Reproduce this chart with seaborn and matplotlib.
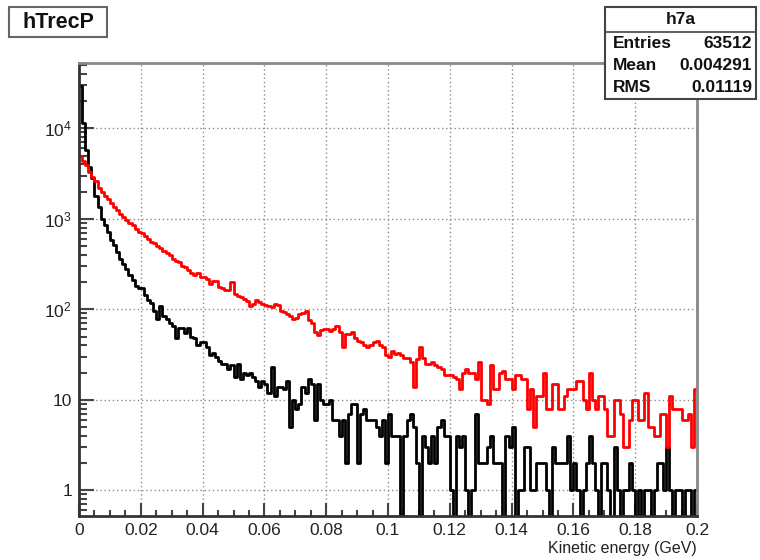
import numpy as np
import pandas as pd
import matplotlib
matplotlib.use("Agg")
import matplotlib.pyplot as plt
from matplotlib.patches import Rectangle
from matplotlib.lines import Line2D
from matplotlib import ticker
import seaborn as sns

# ---------------- data ----------------
bin_lo, bin_hi, n_bins = 0.0, 0.2, 200

black_counts = [
    29000, 11400, 5700, 3700, 2800, 1800, 1350, 1000, 850, 710,
    580, 510, 430, 360, 320, 280, 240, 210, 180, 170,
    170, 145, 126, 117, 95, 78, 110, 85, 78, 70,
    65, 48, 62, 62, 55, 62, 50, 48, 40, 44,
    43, 38, 31, 33, 30, 27, 25, 25, 22, 24,
    18, 25, 17, 20, 19, 20, 18, 16, 14, 16,
    15, 12, 23, 11, 14, 14, 13, 16, 5, 10,
    8, 9, 14, 12, 17, 15, 6, 15, 10, 9,
    9, 10, 6, 6, 4, 6, 2, 7, 9, 9,
    2, 7, 8, 6, 6, 6, 5, 4, 6, 2,
    7, 4, 4, 4, 0, 4, 6, 7, 5, 2,
    0, 4, 3, 2, 4, 2, 5, 6, 4, 4,
    1, 0, 4, 3, 4, 1, 0, 1, 7, 2,
    2, 2, 3, 4, 2, 2, 2, 0, 4, 3,
    5, 0, 1, 1, 3, 3, 1, 1, 2, 2,
    2, 1, 0, 3, 2, 2, 2, 2, 4, 1,
    2, 1, 0, 1, 2, 4, 2, 1, 0, 2,
    2, 1, 0, 3, 1, 0, 1, 1, 2, 1,
    0, 1, 0, 1, 1, 0, 1, 2, 2, 1,
    3, 1, 0, 1, 1, 0, 1, 1, 0, 1,
]

red_counts = [
    5000, 4400, 3900, 3300, 2900, 2600, 2200, 2000, 1800, 1650,
    1480, 1350, 1250, 1120, 1050, 960, 900, 850, 780, 720,
    700, 640, 600, 560, 540, 500, 470, 440, 420, 400,
    360, 340, 330, 300, 290, 270, 250, 240, 255, 230,
    228, 215, 191, 208, 208, 176, 170, 162, 162, 200,
    148, 140, 137, 130, 125, 110, 115, 126, 120, 115,
    112, 110, 105, 115, 112, 95, 93, 89, 85, 79,
    80, 89, 92, 97, 76, 70, 56, 52, 59, 60,
    61, 58, 60, 66, 56, 38, 54, 54, 56, 48,
    45, 44, 40, 38, 40, 44, 45, 40, 38, 31,
    30, 35, 32, 33, 31, 29, 29, 26, 14, 28,
    38, 29, 25, 25, 26, 24, 23, 22, 19, 19,
    19, 18, 17, 13, 20, 22, 20, 20, 17, 26,
    10, 10, 9, 24, 13, 13, 20, 21, 17, 17,
    13, 19, 19, 17, 17, 8, 13, 5, 11, 11,
    20, 8, 8, 15, 15, 8, 8, 11, 13, 13,
    13, 16, 16, 10, 8, 20, 10, 8, 11, 11,
    8, 4, 4, 10, 10, 7, 3, 3, 6, 10,
    10, 6, 6, 12, 5, 5, 4, 4, 7, 7,
    3, 11, 8, 8, 8, 6, 6, 7, 3, 13,
]

x_ticks = [0, 0.02, 0.04, 0.06, 0.08, 0.1, 0.12, 0.14, 0.16, 0.18, 0.2]
x_ticklabels = ["0", "0.02", "0.04", "0.06", "0.08", "0.1", "0.12", "0.14", "0.16", "0.18", "0.2"]
y_ticks = [1, 10, 100, 1000, 10000]
y_ticklabels = ["1", "10", r"$10^{2}$", r"$10^{3}$", r"$10^{4}$"]

hist_title = "hTrecP"
stats_name = "h7a"
stats_rows = [("Entries", "63512"), ("Mean", "0.004291"), ("RMS", "0.01119")]
x_label = "Kinetic energy (GeV)"

# ---------------- figure ----------------
sns.set_style("white")
plt.rcParams["font.family"] = ["Liberation Sans", "DejaVu Sans"]
plt.rcParams["mathtext.fontset"] = "custom"
plt.rcParams["mathtext.rm"] = "Liberation Sans"
plt.rcParams["mathtext.it"] = "Liberation Sans"

W, H = 760, 560
fig = plt.figure(figsize=(W / 100, H / 100), dpi=100)
fig.patch.set_facecolor("white")

def fx(px):
    return px / W

def fy(py):
    return 1 - py / H

ax_l, ax_r, ax_t, ax_b = 79, 697, 63, 516
ax = fig.add_axes([fx(ax_l), fy(ax_b), fx(ax_r) - fx(ax_l), fy(ax_t) - fy(ax_b)])

width = (bin_hi - bin_lo) / n_bins
centers = bin_lo + width * (np.arange(n_bins) + 0.5)
df = pd.DataFrame({
    "energy": np.concatenate([centers, centers]),
    "count": np.concatenate([black_counts, red_counts]).astype(float),
    "series": ["black"] * n_bins + ["red"] * n_bins,
})

for name, col in [("black", "black"), ("red", "#ff0000")]:
    sub = df[df["series"] == name]
    sns.histplot(data=sub, x="energy", weights="count", bins=n_bins,
                 binrange=(bin_lo, bin_hi), element="step", fill=False,
                 color=col, linewidth=2.0, ax=ax)

ax.set_yscale("log")
ax.set_xlim(bin_lo, bin_hi)
ax.set_ylim(0.52, 52700)

ax.xaxis.set_major_locator(ticker.FixedLocator(x_ticks))
ax.set_xticklabels(x_ticklabels)
ax.xaxis.set_minor_locator(ticker.MultipleLocator(0.005))
ax.yaxis.set_major_locator(ticker.FixedLocator(y_ticks))
ax.set_yticklabels(y_ticklabels)
ax.yaxis.set_minor_locator(ticker.LogLocator(base=10, subs=np.arange(2, 10)))
ax.yaxis.set_minor_formatter(ticker.NullFormatter())

ax.tick_params(axis="both", which="both", direction="in", colors="#444444",
               labelcolor="#222222", labelsize=12.5, width=1.5,
               bottom=True, left=True, top=False, right=False)
ax.tick_params(axis="x", which="major", length=9.5, pad=5)
ax.tick_params(axis="x", which="minor", length=4.5)
ax.tick_params(axis="y", which="major", length=11, pad=5)
ax.tick_params(axis="y", which="minor", length=5.5)

ax.grid(True, which="major", color="#8a8a8a", linestyle=(0, (1, 2)), linewidth=1)
ax.set_xlabel("")
ax.set_ylabel("")

for s in ["left", "bottom"]:
    ax.spines[s].set_color("#333333")
    ax.spines[s].set_linewidth(2)
for s in ["top", "right"]:
    ax.spines[s].set_color("#888888")
    ax.spines[s].set_linewidth(2)

fig.text(fx(697), fy(548), x_label, ha="right", va="center", fontsize=11.5, color="#222222")

# title box
fig.add_artist(Rectangle((fx(9), fy(37)), fx(107) - fx(9), fy(7) - fy(37),
                         transform=fig.transFigure, facecolor="white",
                         edgecolor="#666666", linewidth=1.5))
fig.text(fx(58), fy(22), hist_title, ha="center", va="center", fontsize=15.5,
         fontweight="bold", color="#111111")

# stats box
bx0, bx1, by0, by1 = 605, 756, 7, 99
fig.add_artist(Rectangle((fx(bx0), fy(by1)), fx(bx1) - fx(bx0), fy(by0) - fy(by1),
                         transform=fig.transFigure, facecolor="white",
                         edgecolor="#444444", linewidth=1.5, zorder=5))
fig.add_artist(Line2D([fx(bx0), fx(bx1)], [fy(32), fy(32)], transform=fig.transFigure,
                      color="#444444", linewidth=1.2, zorder=6))
fig.text(fx((bx0 + bx1) / 2), fy(20), stats_name, ha="center", va="center",
         fontsize=12.5, fontweight="bold", color="#111111", zorder=7)
row_y = [43, 65, 87]
for (lab, val), yy in zip(stats_rows, row_y):
    fig.text(fx(613), fy(yy), lab, ha="left", va="center", fontsize=12.5,
             fontweight="bold", color="#111111", zorder=7)
    fig.text(fx(752), fy(yy), val, ha="right", va="center", fontsize=12.5,
             fontweight="bold", color="#111111", zorder=7)

fig.savefig("out.png", dpi=100, facecolor="white")
